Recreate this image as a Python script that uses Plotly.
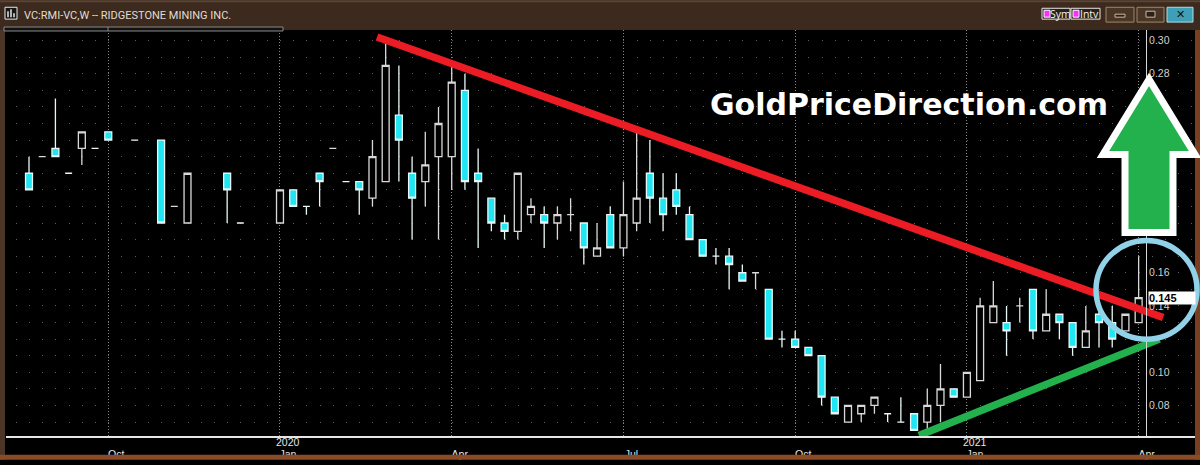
import plotly.graph_objects as go
import pandas as pd

# ---------------- data (weekly bars) ----------------
weeks = ["2019-08-19", "2019-08-26", "2019-09-02", "2019-09-09", "2019-09-16", "2019-09-23",
         "2019-09-30", "2019-10-14", "2019-10-28", "2019-11-04", "2019-11-11", "2019-12-02",
         "2019-12-09", "2019-12-30", "2020-01-06", "2020-01-13", "2020-01-20", "2020-01-27",
         "2020-02-03", "2020-02-10", "2020-02-17", "2020-02-24", "2020-03-02", "2020-03-09",
         "2020-03-16", "2020-03-23", "2020-03-30", "2020-04-06", "2020-04-13", "2020-04-20",
         "2020-04-27", "2020-05-04", "2020-05-11", "2020-05-18", "2020-05-25", "2020-06-01",
         "2020-06-08", "2020-06-15", "2020-06-22", "2020-06-29", "2020-07-06", "2020-07-13",
         "2020-07-20", "2020-07-27", "2020-08-03", "2020-08-10", "2020-08-17", "2020-08-24",
         "2020-08-31", "2020-09-07", "2020-09-14", "2020-09-21", "2020-09-28", "2020-10-05",
         "2020-10-12", "2020-10-19", "2020-10-26", "2020-11-02", "2020-11-09", "2020-11-16",
         "2020-11-23", "2020-11-30", "2020-12-07", "2020-12-14", "2020-12-21", "2020-12-28",
         "2021-01-04", "2021-01-11", "2021-01-18", "2021-01-25", "2021-02-01", "2021-02-08",
         "2021-02-15", "2021-02-22", "2021-03-01", "2021-03-08", "2021-03-15", "2021-03-22",
         "2021-03-29"]
opens = [0.22, 0.23, 0.235, 0.22, 0.235, 0.235, 0.245, 0.24, 0.24, 0.20, 0.19, 0.22,
         0.19, 0.19, 0.21, 0.20, 0.22, 0.235, 0.215, 0.215, 0.205, 0.215, 0.255, 0.22,
         0.215, 0.23, 0.23, 0.27, 0.22, 0.205, 0.19, 0.185, 0.195, 0.195, 0.19, 0.195,
         0.19, 0.17, 0.195, 0.175, 0.19, 0.22, 0.205, 0.21, 0.195, 0.18, 0.17, 0.17,
         0.16, 0.16, 0.15, 0.12, 0.12, 0.115, 0.11, 0.085, 0.07, 0.075, 0.08, 0.075,
         0.07, 0.075, 0.07, 0.08, 0.09, 0.085, 0.095, 0.13, 0.13, 0.14, 0.15, 0.125,
         0.135, 0.13, 0.115, 0.135, 0.13, 0.125, 0.13]
highs = [0.23, 0.23, 0.265, 0.22, 0.245, 0.235, 0.245, 0.24, 0.24, 0.20, 0.22, 0.22,
         0.19, 0.21, 0.21, 0.20, 0.22, 0.235, 0.215, 0.215, 0.24, 0.30, 0.285, 0.23,
         0.245, 0.26, 0.285, 0.28, 0.235, 0.205, 0.195, 0.22, 0.205, 0.20, 0.20, 0.205,
         0.19, 0.19, 0.20, 0.215, 0.245, 0.24, 0.22, 0.22, 0.20, 0.18, 0.175, 0.175,
         0.165, 0.16, 0.15, 0.125, 0.125, 0.115, 0.11, 0.085, 0.08, 0.08, 0.085, 0.075,
         0.085, 0.075, 0.09, 0.105, 0.09, 0.10, 0.145, 0.155, 0.14, 0.145, 0.15, 0.15,
         0.135, 0.13, 0.14, 0.14, 0.14, 0.135, 0.17]
lows = [0.21, 0.23, 0.23, 0.22, 0.225, 0.235, 0.24, 0.24, 0.19, 0.20, 0.19, 0.19,
        0.19, 0.19, 0.20, 0.195, 0.20, 0.235, 0.215, 0.195, 0.20, 0.215, 0.215, 0.18,
        0.20, 0.18, 0.21, 0.21, 0.175, 0.185, 0.18, 0.18, 0.19, 0.175, 0.18, 0.185,
        0.165, 0.17, 0.175, 0.17, 0.185, 0.19, 0.185, 0.195, 0.18, 0.17, 0.165, 0.15,
        0.155, 0.15, 0.12, 0.115, 0.115, 0.11, 0.08, 0.075, 0.07, 0.07, 0.075, 0.07,
        0.07, 0.065, 0.065, 0.07, 0.085, 0.085, 0.095, 0.13, 0.11, 0.13, 0.12, 0.125,
        0.12, 0.11, 0.115, 0.115, 0.115, 0.125, 0.13]
closes = [0.21, 0.23, 0.23, 0.22, 0.245, 0.235, 0.24, 0.24, 0.19, 0.20, 0.22, 0.21,
          0.19, 0.21, 0.20, 0.20, 0.215, 0.235, 0.215, 0.21, 0.23, 0.285, 0.24, 0.205,
          0.225, 0.25, 0.275, 0.215, 0.215, 0.19, 0.185, 0.22, 0.20, 0.19, 0.195, 0.195,
          0.175, 0.175, 0.175, 0.195, 0.205, 0.205, 0.195, 0.20, 0.18, 0.17, 0.17, 0.165,
          0.155, 0.16, 0.12, 0.12, 0.115, 0.11, 0.085, 0.075, 0.08, 0.08, 0.085, 0.075,
          0.07, 0.065, 0.08, 0.09, 0.085, 0.10, 0.14, 0.14, 0.125, 0.14, 0.125, 0.135,
          0.13, 0.115, 0.125, 0.13, 0.12, 0.135, 0.145]

last_price = 0.145
price_ticks = [0.08, 0.10, 0.14, 0.16, 0.28, 0.30]
quarter_ticks = ["2019-09-30", "2019-12-30", "2020-03-30", "2020-06-29",
                 "2020-09-28", "2020-12-28", "2021-03-29"]
quarter_labels = ["Oct", "Jan", "Apr", "Jul", "Oct", "Jan", "Apr"]
year_ticks = ["2019-12-30", "2020-12-28"]
year_labels = ["2020", "2021"]

# hand-drawn trend lines (date, price)
red_dates = ["2020-02-19 10:00", "2021-04-11"]
red_prices = [0.3022, 0.133]
green_dates = ["2020-12-02 14:00", "2021-04-09"]
green_prices = [0.0619, 0.120]

title_text = "VC:RMI-VC,W -- RIDGESTONE MINING INC."
brand_text = "GoldPriceDirection.com"

# ---------------- layout geometry (pixels) ----------------
W, H = 1200, 465
PL, PR, PT, PB = 6, 1195, 30, 441


def xp(px):
    return (px - PL) / (PR - PL)


def yp(py):
    return (PB - py) / (PB - PT)


t0 = pd.Timestamp(weeks[0])
ppd = 13.21 / 7.0


def date_at(px):
    return t0 + pd.Timedelta(days=(px - 29) / ppd)


def price_at(py):
    return 0.30 - (py - 40.7) / 1679.0


x_range = [date_at(PL), date_at(PR)]
y_range = [price_at(PB), price_at(PT)]

CYAN = "#1fe6f2"

fig = go.Figure()
fig.add_trace(go.Candlestick(
    x=weeks, open=opens, high=highs, low=lows, close=closes,
    increasing=dict(line=dict(color="#d9d9d9", width=1.3), fillcolor="#000000"),
    decreasing=dict(line=dict(color="#e8f8f8", width=1.3), fillcolor=CYAN),
    whiskerwidth=0, hoverinfo="skip", showlegend=False,
))
fig.add_trace(go.Scatter(x=red_dates, y=red_prices, mode="lines",
                         line=dict(color="#ec1c24", width=7.5), hoverinfo="skip",
                         showlegend=False))
fig.add_trace(go.Scatter(x=green_dates, y=green_prices, mode="lines",
                         line=dict(color="#22b14c", width=7.5), hoverinfo="skip",
                         showlegend=False))

shapes = []


def prect(x0, y0, x1, y1, fill=None, line=None, lw=1, layer="above"):
    d = dict(type="rect", xref="paper", yref="paper", x0=xp(x0), x1=xp(x1),
             y0=yp(y1), y1=yp(y0), layer=layer,
             fillcolor=fill if fill else "rgba(0,0,0,0)",
             line=dict(color=line if line else "rgba(0,0,0,0)", width=lw if line else 0))
    shapes.append(d)


# window frame
prect(0, 0, 1200, 30, fill="#3b2a1d")
prect(0, 0, 1200, 2, fill="#5b4634")
prect(0, 30, 5, 465, fill="#4a3527")
prect(1195, 30, 1200, 465, fill="#7a3f20")
prect(0, 460, 1200, 465, fill="#8a4a26")
prect(4, 27, 283, 31, fill="#111111", line="#8a8a8a", lw=1)
shapes.append(dict(type="line", xref="paper", yref="paper", x0=xp(108), x1=xp(108),
                   y0=yp(31), y1=yp(27), line=dict(color="#8a8a8a", width=1)))
# icon
prect(5, 7, 17, 19, fill="#151515", line="#e8e8e8", lw=1)
for bx, by in [(8, 11), (11, 9), (14, 13)]:
    shapes.append(dict(type="line", xref="paper", yref="paper", x0=xp(bx), x1=xp(bx),
                       y0=yp(17), y1=yp(by), line=dict(color="#e8e8e8", width=1.5)))
# Sym / Intv buttons
prect(1042, 8, 1070, 19, fill="#2b2019", line="#e8e8e8", lw=1)
prect(1044, 10, 1050, 17, fill="#ff2bff", line="#ffffff", lw=1)
prect(1071, 8, 1100, 19, fill="#2b2019", line="#e8e8e8", lw=1)
prect(1073, 10, 1079, 17, fill="#ff2bff", line="#ffffff", lw=1)
# window buttons
prect(1106, 7, 1134, 22, fill="#4a3626", line="#a08862", lw=1)
prect(1115, 14, 1125, 17, fill="#2a2018", line="#c8b8a0", lw=1)
prect(1137, 7, 1164, 22, fill="#4a3626", line="#a08862", lw=1)
prect(1146, 11, 1155, 17, fill="#2a2018", line="#c8b8a0", lw=1)
prect(1167, 7, 1193, 22, fill="#3f9fb6", line="#a8dcea", lw=1)

# green arrow (pixel outline -> paper coords)
arrow_px = [(1149, 80), (1195, 156), (1173, 156), (1173, 235), (1125, 235),
            (1125, 156), (1103, 156)]
path = "M " + " L ".join(f"{xp(a):.5f},{yp(b):.5f}" for a, b in arrow_px) + " Z"
shapes.append(dict(type="path", xref="paper", yref="paper", path=path,
                   fillcolor="#22b14c", line=dict(color="#ffffff", width=7), layer="above"))
# blue circle
shapes.append(dict(type="circle", xref="paper", yref="paper", x0=xp(1096), x1=xp(1197),
                   y0=yp(343), y1=yp(243), line=dict(color="#92d2e8", width=5.5),
                   fillcolor="rgba(0,0,0,0)", layer="above"))

annotations = [
    dict(xref="paper", yref="paper", x=xp(22), y=yp(15), xanchor="left", yanchor="middle",
         text=title_text, showarrow=False,
         font=dict(family="Roboto", size=11, color="#e2dbd2")),
    dict(xref="paper", yref="paper", x=xp(1060), y=yp(13.5), xanchor="center",
         yanchor="middle", text="Sym", showarrow=False,
         font=dict(family="Open Sans", size=10.5, color="#f2f2f2")),
    dict(xref="paper", yref="paper", x=xp(1089), y=yp(13.5), xanchor="center",
         yanchor="middle", text="Intv", showarrow=False,
         font=dict(family="Open Sans", size=10.5, color="#f2f2f2")),
    dict(xref="paper", yref="paper", x=xp(1180), y=yp(14.5), xanchor="center",
         yanchor="middle", text="<b>✕</b>", showarrow=False,
         font=dict(family="DejaVu Sans", size=11, color="#101010")),
    dict(xref="paper", yref="paper", x=xp(909), y=yp(105), xanchor="center",
         yanchor="middle", text="<b>" + brand_text + "</b>", showarrow=False,
         font=dict(family="DejaVu Sans", size=30, color="#ffffff")),
    dict(xref="paper", yref="y", x=xp(1148), y=last_price, xanchor="left",
         yanchor="middle", text="<b>" + f"{last_price:.3f}" + "</b>", showarrow=False,
         bgcolor="#ffffff", width=46, align="left", borderpad=0,
         font=dict(family="Arial", size=11, color="#000000")),
]
for d, t in zip(year_ticks, year_labels):
    annotations.append(dict(xref="x", yref="paper", x=d, y=yp(447.5), xanchor="center",
                            yanchor="middle", xshift=8, text=t, showarrow=False,
                            font=dict(family="Arial", size=10.5, color="#e6e6e6")))

fig.update_layout(
    width=W, height=H,
    margin=dict(l=PL, r=W - PR, t=PT, b=H - PB, pad=0),
    paper_bgcolor="#000000", plot_bgcolor="#000000",
    boxgap=0.3, boxgroupgap=0.25,
    showlegend=False,
    shapes=shapes, annotations=annotations,
    xaxis=dict(type="date", range=x_range, rangeslider=dict(visible=False),
               tickmode="array", tickvals=quarter_ticks, ticktext=quarter_labels,
               ticklabelshift=8, ticklabelstandoff=8, ticks="",
               tickfont=dict(family="Arial", size=10.5, color="#e6e6e6"),
               showgrid=True, gridcolor="#8a8a8a", gridwidth=1, griddash="1px,2px",
               showline=True, linecolor="#e6e6e6", linewidth=1.5, zeroline=False,
               fixedrange=True),
    yaxis=dict(range=y_range, side="right", anchor="free", position=xp(1146),
               tickmode="array", tickvals=price_ticks,
               ticktext=[f"{v:.2f}" for v in price_ticks], ticks="",
               tickfont=dict(family="Arial", size=10.5, color="#d0d0d0"),
               showline=True, linecolor="#d8d8d8", linewidth=1,
               showgrid=True, gridcolor="#5c5c5c", gridwidth=1,
               griddash="0px,9.79px,1px,2.42px",
               minor=dict(tickmode="linear", tick0=0, dtick=0.01, showgrid=True,
                          gridcolor="#5c5c5c", gridwidth=1,
                          griddash="0px,9.79px,1px,2.42px"),
               zeroline=False, fixedrange=True),
)

fig.write_html("out.html", config={"displayModeBar": False},
               post_script="document.body.style.margin='0px';"
                           "document.body.style.padding='0px';"
                           "document.body.style.overflow='hidden';"
                           "document.body.style.background='#000';")
